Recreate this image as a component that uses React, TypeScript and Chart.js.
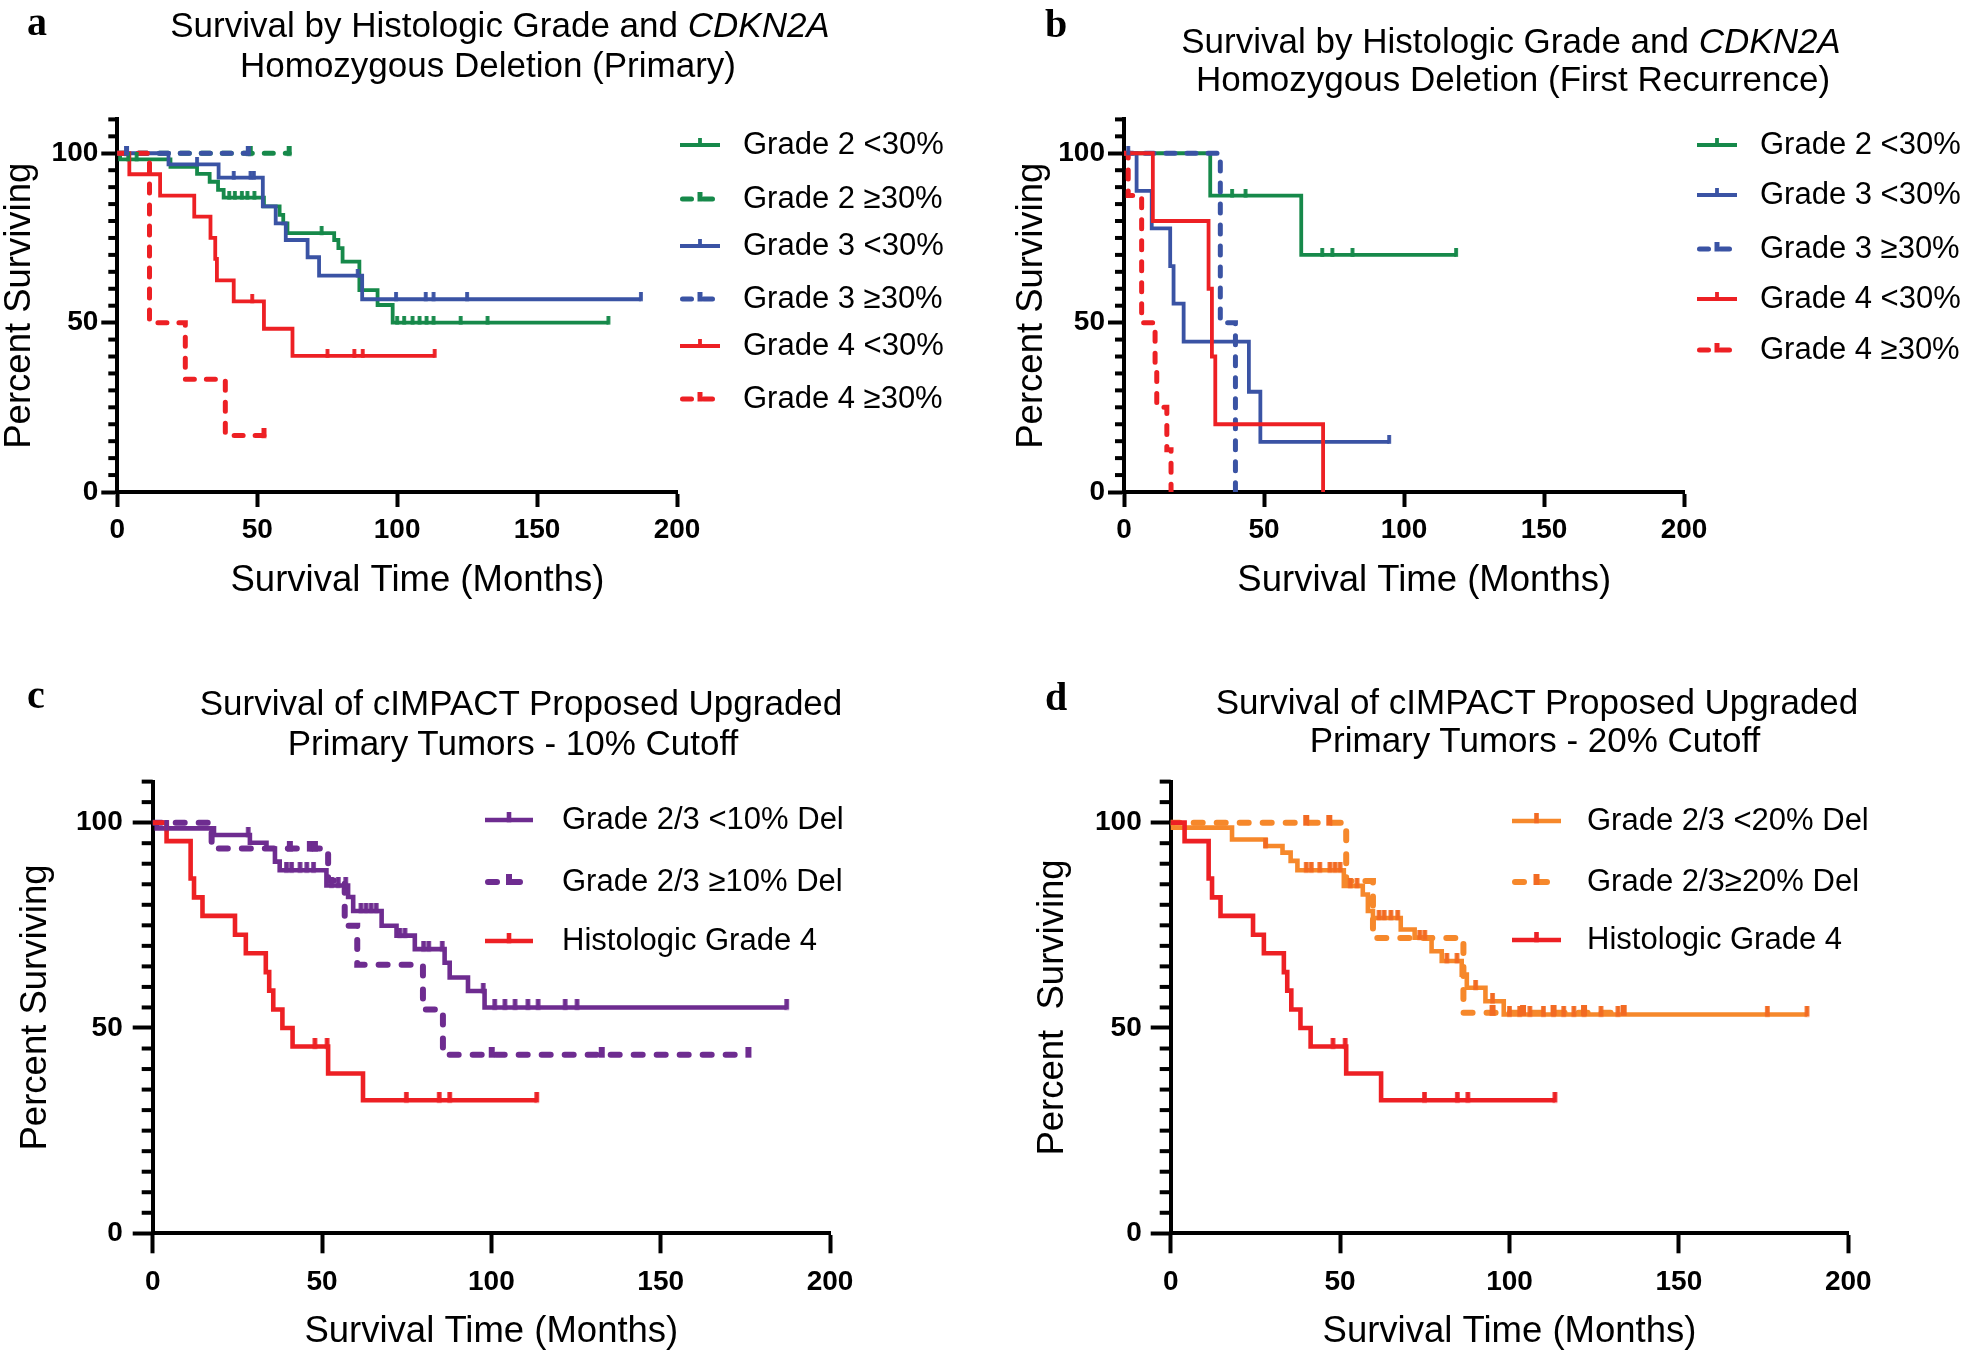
import React, { useEffect, useRef } from 'react';
import { Chart, registerables } from 'chart.js';

Chart.register(...registerables);

const SANS = "'Liberation Sans', Arial, Helvetica, sans-serif";
const SERIF = "'Liberation Serif', 'Times New Roman', serif";

// ---------- axes ----------
const X_TICKS = [0, 50, 100, 150, 200];
const Y_MAJOR = [0, 50, 100];
const Y_MINOR_STEP = 5;
const X_MAX = 200;
const Y_MAX = 110;

// ---------- panel a : primary ----------
const aLabels = ['Grade 2 <30%', 'Grade 2 ≥30%', 'Grade 3 <30%', 'Grade 3 ≥30%', 'Grade 4 <30%', 'Grade 4 ≥30%'];
const aG2LowTimes = [0, 1, 19, 28.5, 33, 36, 38, 52.4, 58, 59.3, 60.8, 77.5, 79, 80.5, 86.5, 93, 98.4, 175.5];
const aG2LowSurv = [100, 98.2, 96, 93.9, 91.6, 89.2, 86.9, 84.3, 81.8, 79.3, 76.4, 74.4, 72, 68, 59.6, 55.2, 50, 50];
const aG2LowCens = [3.9, 6.9, 40, 42, 44.5, 46.5, 49, 73, 100, 102.5, 105.5, 108, 110.5, 113, 122.7, 132.3, 175.5];
const aG2HighTimes = [0, 61.4];
const aG2HighSurv = [100, 100];
const aG2HighCens = [47.5, 61.4];
const aG3LowTimes = [0, 18.3, 36.2, 52, 56.6, 60.2, 68, 72.1, 87.5, 187.1];
const aG3LowSurv = [100, 96.7, 92.8, 84.3, 79.3, 74.4, 69.3, 63.9, 56.9, 56.9];
const aG3LowCens = [28.5, 41.6, 47.6, 48.8, 85.9, 99.6, 110.2, 113, 125, 187.1];
const aG3HighTimes = [0, 46.8];
const aG3HighSurv = [100, 100];
const aG3HighCens = [3.3, 46.8];
const aG4LowTimes = [0, 4.3, 15.3, 27.5, 33.3, 35, 35.6, 41.6, 52.4, 62.6, 113.4];
const aG4LowSurv = [100, 93.8, 87.5, 81.3, 75, 68.8, 62.5, 56.3, 48.2, 40.2, 40.2];
const aG4LowCens = [48.2, 75.1, 84.7, 87.7, 113.4];
const aG4HighTimes = [0, 11.5, 24.3, 38.6, 52.4];
const aG4HighSurv = [100, 50, 33.3, 16.7, 16.7];
const aG4HighCens = [52.4];

// ---------- panel b : first recurrence ----------
const bLabels = ['Grade 2 <30%', 'Grade 3 <30%', 'Grade 3 ≥30%', 'Grade 4 <30%', 'Grade 4 ≥30%'];
const bG2LowTimes = [0, 30.8, 63.3, 118.6];
const bG2LowSurv = [100, 87.5, 70, 70];
const bG2LowCens = [38.6, 43.4, 70.8, 74.4, 81.6, 118.6];
const bG3LowTimes = [0, 4.5, 9.9, 16.5, 17.7, 21.3, 44.6, 48.7, 94.7];
const bG3LowSurv = [100, 88.9, 77.8, 66.7, 55.6, 44.4, 29.6, 14.8, 14.8];
const bG3LowCens = [1.5, 94.7];
const bG3HighTimes = [0, 34.4, 39.8];
const bG3HighSurv = [100, 50, 0];
const bG3HighCens: number[] = [];
const bG4LowTimes = [0, 10.3, 30.2, 31.4, 32.6, 71.1];
const bG4LowSurv = [100, 80, 60, 40, 20, 0];
const bG4LowCens: number[] = [];
const bG4HighTimes = [0, 1.5, 6.3, 11.1, 11.7, 15.3, 16.8];
const bG4HighSurv = [100, 87.5, 50, 37.5, 25, 12.5, 0];
const bG4HighCens: number[] = [];

// ---------- panel c : 10% cutoff ----------
const cLabels = ['Grade 2/3 <10% Del', 'Grade 2/3 ≥10% Del', 'Histologic Grade 4'];
const cLowTimes = [0, 1.2, 18.1, 28.7, 33.6, 36.1, 37.5, 51.3, 57.7, 59.2, 67.6, 72, 77.4, 86.2, 87.7, 93.1, 98, 187.2];
const cLowSurv = [100, 98.6, 97, 95.1, 93.7, 90.5, 88.4, 84.7, 81.9, 78.5, 74.9, 72.5, 69.2, 65.9, 62.3, 59, 55, 55];
const cLowCens = [4.1, 28.2, 39.5, 41, 43.5, 45.5, 47.5, 52.8, 54.8, 57, 61.5, 63, 64.5, 66, 73, 74.5, 80, 81.5, 85.5, 97.6, 101, 104, 107, 110.8, 113.8, 121.8, 125.3, 187.2];
const cHighTimes = [0, 17.4, 51.8, 56.7, 60.4, 79.8, 85.7, 175.9];
const cHighSurv = [100, 93.7, 85.9, 74.9, 65.4, 54.5, 43.5, 43.5];
const cHighCens = [40.5, 46.4, 47.9, 100.1, 132.6, 175.9];

// histologic grade 4 (shared by c and d)
const g4Times = [0, 4.1, 11.2, 12.2, 14.7, 24.3, 27.5, 33.4, 34.4, 35.6, 38.3, 41.3, 51.8, 62.1, 113.4];
const g4Surv = [100, 95.5, 86.4, 81.8, 77.3, 72.7, 68.2, 63.6, 59.1, 54.5, 50, 45.5, 38.9, 32.4, 32.4];
const g4Cens = [47.9, 51.5, 74.9, 84.6, 87.7, 113.4];

// ---------- panel d : 20% cutoff ----------
const dLabels = ['Grade 2/3 <20% Del', 'Grade 2/3≥20% Del', 'Histologic Grade 4'];
const dLowTimes = [0, 0.5, 18.1, 28, 33, 35.4, 37.4, 51.1, 56.7, 58.2, 59.7, 67.9, 72, 77, 80, 85.9, 87.4, 92.9, 98.3, 187.8];
const dLowSurv = [100, 98.8, 95.9, 94.3, 92.7, 90.7, 88.4, 84.6, 82.5, 78.5, 76.8, 74, 72, 68.7, 66.3, 63, 59.8, 56.5, 53.3, 53.3];
const dLowCens = [28, 40, 41.5, 44, 47, 48.5, 50, 53, 55, 61.5, 63, 65, 67, 73.5, 75, 81.5, 84.5, 90, 95, 100, 103, 106, 110, 113, 116, 119, 122, 127, 132, 176.1, 187.8];
const dHighTimes = [0, 51.8, 59.7, 86.4, 133.7];
const dHighSurv = [100, 85.8, 71.9, 53.7, 53.7];
const dHighCens = [40, 46.8, 95, 104, 113, 122, 133.7];

// ---------- text ----------
const X_TITLE = 'Survival Time (Months)';
const Y_TITLE = 'Percent Surviving';
const Y_TITLE_D = 'Percent  Surviving';

// ---------- styles ----------
const GREEN = '#16894A';
const BLUE = '#3A53A4';
const RED = '#ED2024';
const PURPLE = '#6E2C90';
const ORANGE = '#F6882B';
const ORANGE_DARK = '#F26A22';
const AXIS_TITLE_SIZE = 36.5;
const TICK_SIZE = 28;

type SeriesDef = {
  label: string; times: number[]; surv: number[]; censor: number[];
  color: string; dashed: boolean; censorColor?: string;
};

type PanelDef = {
  series: SeriesDef[];
  width: number; height: number;
  pad: { left: number; top: number; right: number; bottom: number };
  yWidth: number; xHeight: number;
  majorLen: number; minorLen: number; xTickLen: number;
  yTickPad: number; xTickPad: number;
  xTitle: string; yTitle: string;
  lineWidth: number; dashWidth: number; dash: number[]; censorLen: number;
  legend: { x0: number; x1: number; tx: number; ys: number[]; fontSize: number };
};

function survAt(times: number[], surv: number[], t: number) {
  let s = surv[0];
  for (let i = 0; i < times.length; i++) if (times[i] <= t) s = surv[i];
  return s;
}

function censorImage(color: string, lw: number, h: number) {
  const c = document.createElement('canvas');
  c.width = Math.ceil(lw) + 2;
  c.height = Math.ceil(h) * 2;
  const g = c.getContext('2d')!;
  g.strokeStyle = color;
  g.lineWidth = lw;
  g.beginPath();
  g.moveTo(c.width / 2, 0);
  g.lineTo(c.width / 2, c.height / 2 + lw / 2);
  g.stroke();
  return c;
}

function buildConfig(p: PanelDef): any {
  const datasets: any[] = [];
  const n = p.series.length;
  p.series.forEach((s, i) => {
    const w = s.dashed ? p.dashWidth : p.lineWidth;
    datasets.push({
      type: 'line',
      label: s.label,
      data: s.times.map((t, k) => ({ x: t, y: s.surv[k] })),
      stepped: 'before',
      borderColor: s.color,
      backgroundColor: s.color,
      borderWidth: w,
      borderDash: s.dashed ? p.dash : [],
      borderCapStyle: s.dashed ? 'round' : 'butt',
      borderJoinStyle: 'miter',
      pointRadius: 0,
      pointHoverRadius: 0,
      fill: false,
      tension: 0,
      order: 100 + (n - i) * 2,
    });
    datasets.push({
      type: 'line',
      label: s.label + ' (censored)',
      data: s.censor.map((t) => ({ x: t, y: survAt(s.times, s.surv, t) })),
      showLine: false,
      pointStyle: censorImage(s.censorColor ?? s.color, w, p.censorLen),
      pointRadius: 3,
      pointHoverRadius: 3,
      order: 10 + (n - i),
    });
  });

  const minorPlugin = {
    id: 'minorTicks',
    afterDraw(chart: any) {
      const ctx = chart.ctx;
      const ys = chart.scales.y;
      const left = chart.chartArea.left;
      ctx.save();
      ctx.strokeStyle = '#000';
      ctx.lineWidth = 4;
      for (let v = Y_MINOR_STEP; v <= Y_MAX; v += Y_MINOR_STEP) {
        if (Y_MAJOR.includes(v)) continue;
        const y = ys.getPixelForValue(v);
        ctx.beginPath();
        ctx.moveTo(left - p.minorLen, y);
        ctx.lineTo(left, y);
        ctx.stroke();
      }
      ctx.restore();
    },
  };

  const legendPlugin = {
    id: 'kmLegend',
    afterDraw(chart: any) {
      const ctx = chart.ctx;
      const L = p.legend;
      p.series.forEach((s, i) => {
        const y = L.ys[i];
        const w = s.dashed ? p.dashWidth : p.lineWidth;
        ctx.save();
        ctx.strokeStyle = s.color;
        ctx.lineWidth = w;
        ctx.setLineDash(s.dashed ? p.dash : []);
        ctx.lineCap = s.dashed ? 'round' : 'butt';
        ctx.beginPath();
        ctx.moveTo(L.x0 + (s.dashed ? w / 2 : 0), y);
        ctx.lineTo(L.x1, y);
        ctx.stroke();
        ctx.setLineDash([]);
        ctx.lineCap = 'butt';
        const mx = (L.x0 + L.x1) / 2;
        ctx.strokeStyle = s.censorColor ?? s.color;
        ctx.lineWidth = w;
        ctx.beginPath();
        ctx.moveTo(mx, y + w / 2);
        ctx.lineTo(mx, y - p.censorLen);
        ctx.stroke();
        ctx.fillStyle = '#000';
        ctx.font = `${L.fontSize}px ${SANS}`;
        ctx.textBaseline = 'middle';
        ctx.textAlign = 'left';
        ctx.fillText(s.label, L.tx, y);
        ctx.restore();
      });
    },
  };

  return {
    type: 'line',
    data: { datasets },
    options: {
      animation: false,
      responsive: false,
      events: [],
      layout: { padding: p.pad },
      plugins: {
        legend: { display: false },
        tooltip: { enabled: false },
        title: { display: false },
      },
      scales: {
        x: {
          type: 'linear',
          position: 'bottom',
          min: 0,
          max: X_MAX,
          afterFit: (s: any) => { s.height = p.xHeight; },
          border: { display: true, color: '#000', width: 4 },
          grid: { drawOnChartArea: false, drawTicks: true, tickLength: p.xTickLen, tickWidth: 4, tickColor: '#000' },
          ticks: {
            stepSize: 50,
            autoSkip: false,
            maxRotation: 0,
            padding: p.xTickPad,
            color: '#000',
            font: { family: SANS, size: TICK_SIZE, weight: 'bold' },
            callback: (v: any) => (X_TICKS.includes(Number(v)) ? String(v) : ''),
          },
          title: { display: true, text: p.xTitle, color: '#000', font: { family: SANS, size: AXIS_TITLE_SIZE, lineHeight: 1 }, padding: 0 },
        },
        y: {
          type: 'linear',
          position: 'left',
          min: 0,
          max: Y_MAX,
          afterFit: (s: any) => { s.width = p.yWidth; },
          border: { display: true, color: '#000', width: 4 },
          grid: {
            drawOnChartArea: false,
            drawTicks: true,
            tickLength: p.majorLen,
            tickWidth: 4,
            tickColor: (ctx: any) => (ctx.tick && Y_MAJOR.includes(ctx.tick.value) ? '#000' : 'rgba(0,0,0,0)'),
          },
          ticks: {
            stepSize: Y_MINOR_STEP,
            autoSkip: false,
            padding: p.yTickPad,
            color: '#000',
            font: { family: SANS, size: TICK_SIZE, weight: 'bold' },
            callback: (v: any) => (Y_MAJOR.includes(Number(v)) ? String(v) : ''),
          },
          title: { display: true, text: p.yTitle, color: '#000', font: { family: SANS, size: AXIS_TITLE_SIZE, lineHeight: 1 }, padding: 0 },
        },
      },
    },
    plugins: [minorPlugin, legendPlugin],
  };
}

const panelA: PanelDef = {
  series: [
    { label: aLabels[0], times: aG2LowTimes, surv: aG2LowSurv, censor: aG2LowCens, color: GREEN, dashed: false },
    { label: aLabels[1], times: aG2HighTimes, surv: aG2HighSurv, censor: aG2HighCens, color: GREEN, dashed: true },
    { label: aLabels[2], times: aG3LowTimes, surv: aG3LowSurv, censor: aG3LowCens, color: BLUE, dashed: false },
    { label: aLabels[3], times: aG3HighTimes, surv: aG3HighSurv, censor: aG3HighCens, color: BLUE, dashed: true },
    { label: aLabels[4], times: aG4LowTimes, surv: aG4LowSurv, censor: aG4LowCens, color: RED, dashed: false },
    { label: aLabels[5], times: aG4HighTimes, surv: aG4HighSurv, censor: aG4HighCens, color: RED, dashed: true },
  ],
  width: 980, height: 620,
  pad: { left: 1.75, top: 119.4, right: 303, bottom: 20.75 },
  yWidth: 115.55, xHeight: 107.25,
  majorLen: 16, minorLen: 9, xTickLen: 15,
  yTickPad: 3, xTickPad: 6,
  xTitle: '    ' + X_TITLE, yTitle: Y_TITLE,
  lineWidth: 3.8, dashWidth: 5, dash: [9, 12], censorLen: 7,
  legend: { x0: 680, x1: 720, tx: 743, ys: [145, 199, 246, 299, 346, 399], fontSize: 31 },
};

const panelB: PanelDef = {
  series: [
    { label: bLabels[0], times: bG2LowTimes, surv: bG2LowSurv, censor: bG2LowCens, color: GREEN, dashed: false },
    { label: bLabels[1], times: bG3LowTimes, surv: bG3LowSurv, censor: bG3LowCens, color: BLUE, dashed: false },
    { label: bLabels[2], times: bG3HighTimes, surv: bG3HighSurv, censor: bG3HighCens, color: BLUE, dashed: true },
    { label: bLabels[3], times: bG4LowTimes, surv: bG4LowSurv, censor: bG4LowCens, color: RED, dashed: false },
    { label: bLabels[4], times: bG4HighTimes, surv: bG4HighSurv, censor: bG4HighCens, color: RED, dashed: true },
  ],
  width: 981, height: 620,
  pad: { left: 33.75, top: 119.4, right: 277, bottom: 20.75 },
  yWidth: 110.25, xHeight: 107.25,
  majorLen: 16, minorLen: 9, xTickLen: 15,
  yTickPad: 3, xTickPad: 6,
  xTitle: '    ' + X_TITLE, yTitle: Y_TITLE,
  lineWidth: 3.8, dashWidth: 5, dash: [9, 12], censorLen: 7,
  legend: { x0: 717, x1: 757, tx: 780, ys: [145, 195, 249, 299, 350], fontSize: 31 },
};

const panelC: PanelDef = {
  series: [
    { label: cLabels[0], times: cLowTimes, surv: cLowSurv, censor: cLowCens, color: PURPLE, dashed: false },
    { label: cLabels[1], times: cHighTimes, surv: cHighSurv, censor: cHighCens, color: PURPLE, dashed: true },
    { label: cLabels[2], times: g4Times, surv: g4Surv, censor: g4Cens, color: RED, dashed: false },
  ],
  width: 980, height: 737,
  pad: { left: 17.35, top: 161.6, right: 150, bottom: 6.75 },
  yWidth: 135.35, xHeight: 116.95,
  majorLen: 20, minorLen: 11, xTickLen: 20,
  yTickPad: 10, xTickPad: 12,
  xTitle: X_TITLE, yTitle: Y_TITLE,
  lineWidth: 4.6, dashWidth: 6, dash: [9, 14], censorLen: 8,
  legend: { x0: 485, x1: 533, tx: 562, ys: [200, 262, 321], fontSize: 31 },
};

const panelD: PanelDef = {
  series: [
    { label: dLabels[0], times: dLowTimes, surv: dLowSurv, censor: dLowCens, color: ORANGE, dashed: false, censorColor: ORANGE_DARK },
    { label: dLabels[1], times: dHighTimes, surv: dHighSurv, censor: dHighCens, color: ORANGE, dashed: true, censorColor: ORANGE_DARK },
    { label: dLabels[2], times: g4Times, surv: g4Surv, censor: g4Cens, color: RED, dashed: false },
  ],
  width: 981, height: 737,
  pad: { left: 54.75, top: 161.6, right: 112.7, bottom: 6.75 },
  yWidth: 135.95, xHeight: 116.95,
  majorLen: 20, minorLen: 11, xTickLen: 20,
  yTickPad: 9, xTickPad: 12,
  xTitle: X_TITLE, yTitle: Y_TITLE_D,
  lineWidth: 4.6, dashWidth: 6, dash: [9, 14], censorLen: 8,
  legend: { x0: 532, x1: 581, tx: 607, ys: [201, 262, 320], fontSize: 31 },
};

function Panel({ def, left, top }: { def: PanelDef; left: number; top: number }) {
  const ref = useRef<HTMLCanvasElement>(null);
  useEffect(() => {
    const chart = new Chart(ref.current as HTMLCanvasElement, buildConfig(def));
    return () => chart.destroy();
  }, [def]);
  return (
    <canvas
      ref={ref}
      width={def.width}
      height={def.height}
      style={{ position: 'absolute', left, top, width: def.width, height: def.height }}
    />
  );
}

function TitleLine({ cx, top, children }: { cx: number; top: number; children: React.ReactNode }) {
  return (
    <div
      style={{
        position: 'absolute', left: cx - 500, top, width: 1000, textAlign: 'center',
        fontFamily: SANS, fontSize: 35, lineHeight: '40px', color: '#000', whiteSpace: 'pre',
      }}
    >
      {children}
    </div>
  );
}

function Letter({ x, top, text }: { x: number; top: number; text: string }) {
  return (
    <div
      style={{
        position: 'absolute', left: x, top, fontFamily: SERIF, fontWeight: 'bold',
        fontSize: 40, lineHeight: '40px', color: '#000',
      }}
    >
      {text}
    </div>
  );
}

export default function App() {
  return (
    <div style={{ position: 'fixed', left: 0, top: 0, width: 1961, height: 1357, background: '#fff', overflow: 'hidden' }}>
      <Panel def={panelA} left={0} top={0} />
      <Panel def={panelB} left={980} top={0} />
      <Panel def={panelC} left={0} top={620} />
      <Panel def={panelD} left={980} top={620} />

      <Letter x={27} top={1.5} text="a" />
      <Letter x={1045} top={3.5} text="b" />
      <Letter x={27} top={674.5} text="c" />
      <Letter x={1045} top={676.5} text="d" />

      <TitleLine cx={500} top={5.4}>Survival by Histologic Grade and <i>CDKN2A</i></TitleLine>
      <TitleLine cx={488} top={45.4}>Homozygous Deletion (Primary)</TitleLine>
      <TitleLine cx={1511} top={21.4}>Survival by Histologic Grade and <i>CDKN2A</i></TitleLine>
      <TitleLine cx={1513} top={58.9}>Homozygous Deletion (First Recurrence)</TitleLine>
      <TitleLine cx={521} top={683.4}>Survival of cIMPACT Proposed Upgraded</TitleLine>
      <TitleLine cx={513} top={723.4}>Primary Tumors - 10% Cutoff</TitleLine>
      <TitleLine cx={1537} top={682}>Survival of cIMPACT Proposed Upgraded</TitleLine>
      <TitleLine cx={1535} top={720.4}>Primary Tumors - 20% Cutoff</TitleLine>
    </div>
  );
}
